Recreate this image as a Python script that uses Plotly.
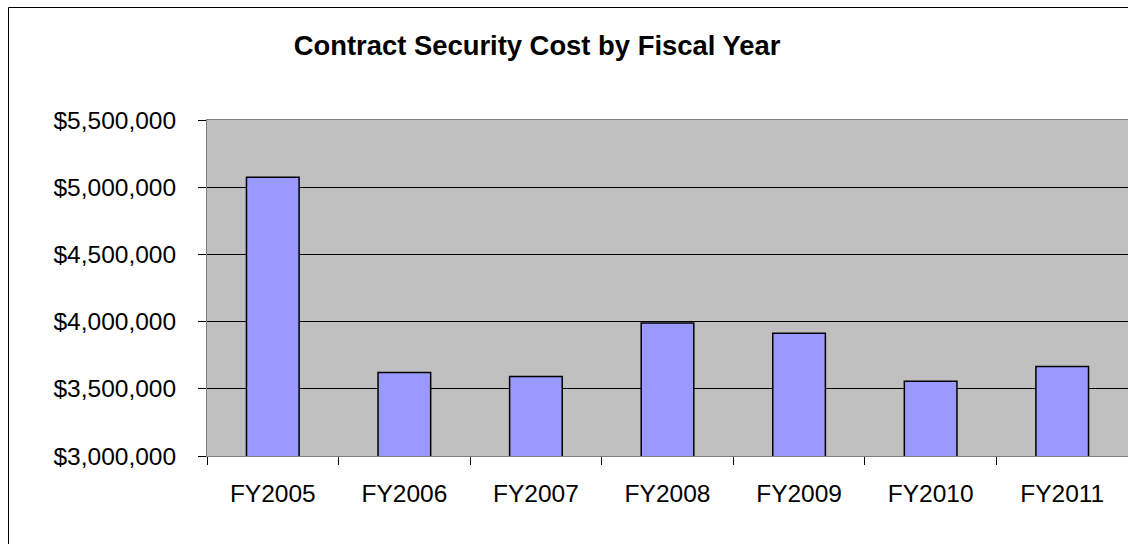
import plotly.graph_objects as go

categories = ["FY2005", "FY2006", "FY2007", "FY2008", "FY2009", "FY2010", "FY2011"]
costs = [5074000, 3621000, 3592000, 3990000, 3913000, 3557000, 3666000]
y_ticks = [3000000, 3500000, 4000000, 4500000, 5000000, 5500000]

FONT = "Liberation Sans, Arial, sans-serif"

fig = go.Figure()
fig.add_trace(go.Bar(
    x=categories, y=costs,
    marker=dict(color="#9999FF", line=dict(color="#000000", width=1.5)),
    hoverinfo="skip",
))

W, H = 1128, 544
L, R, T, B = 207, 0, 120, 88
pw, ph = W - L - R, H - T - B

bx = (8.5 - L) / pw
by = 1 + (T - 7.5) / ph

fig.update_layout(
    width=W, height=H,
    margin=dict(l=L, r=R, t=T, b=B, pad=0),
    paper_bgcolor="white",
    plot_bgcolor="#C0C0C0",
    bargap=0.6,
    showlegend=False,
    font=dict(family=FONT, color="black", size=24.5),
    title=dict(
        text="<b>Contract Security Cost by Fiscal Year</b>",
        x=537 / W, xanchor="center",
        y=1 - 45 / H, yanchor="middle", yref="container",
        font=dict(family=FONT, size=27.4, color="black"),
    ),
    xaxis=dict(
        type="category",
        showline=True, linecolor="#808080", linewidth=1, mirror=True,
        ticks="outside", tickson="boundaries", ticklen=8, tickcolor="#000000",
        tickfont=dict(size=24.5, family=FONT, color="black"),
        ticklabelstandoff=16,
        showgrid=False,
    ),
    yaxis=dict(
        range=[3000000, 5500000],
        tickvals=y_ticks, tickformat="$,.0f",
        showline=True, linecolor="#808080", linewidth=1,
        ticks="outside", ticklen=8, tickcolor="#000000",
        tickfont=dict(size=24.5, family=FONT, color="black"),
        ticklabelstandoff=17,
        showgrid=True, gridcolor="#000000", gridwidth=1,
        zeroline=False,
    ),
    shapes=[
        dict(type="line", xref="paper", yref="paper",
             x0=bx, x1=bx, y0=-0.5, y1=by,
             line=dict(color="#000000", width=1), layer="above"),
        dict(type="line", xref="paper", yref="paper",
             x0=bx, x1=1.0, y0=by, y1=by,
             line=dict(color="#000000", width=1), layer="above"),
    ],
)

fig.write_html(
    "out.html",
    config={"displayModeBar": False},
    post_script="document.body.style.margin='0';document.body.style.overflow='hidden';",
)
